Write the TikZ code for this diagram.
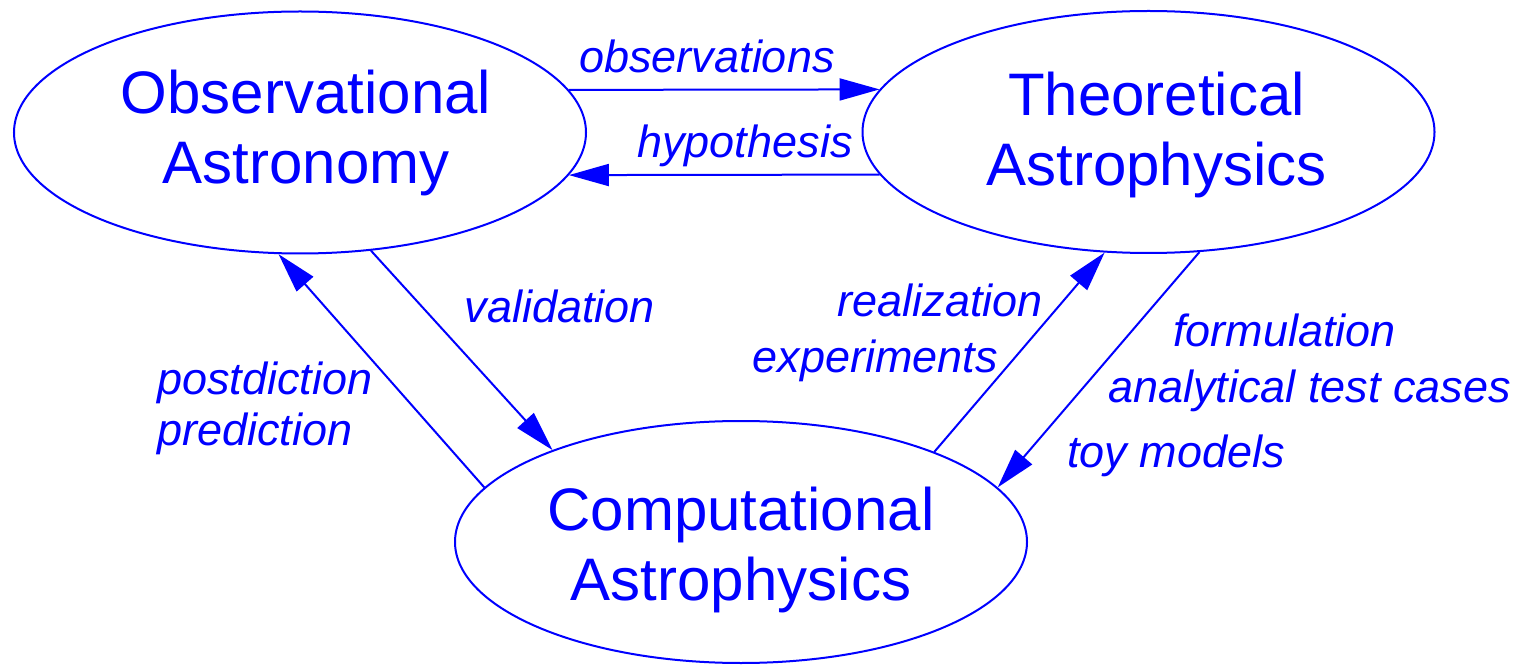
\documentclass[tikz,border=0pt]{standalone}
\usepackage{fontspec}
\setmainfont{Liberation Sans}
\usetikzlibrary{shapes.geometric,arrows.meta}
\definecolor{diagblue}{rgb}{0,0,1}
\providecommand{\diagLineWidth}{2pt}
\providecommand{\diagFieldWidth}{572pt}
\providecommand{\diagFieldHeight}{242pt}

\begin{document}
\begin{tikzpicture}[x=1pt, y=1pt,
  field/.style={ellipse, draw=diagblue, line width=\diagLineWidth,
    minimum width=\diagFieldWidth, minimum height=\diagFieldHeight,
    inner sep=0pt},
  fieldtext/.style={text=diagblue, align=center, inner sep=0pt,
    font=\fontsize{60}{70}\selectfont},
  flow/.style={draw=diagblue, line width=\diagLineWidth,
    -{Triangle[length=40pt,width=22pt]}},
  lbl/.style={text=diagblue, inner sep=0pt,
    font=\fontsize{45}{50}\selectfont\itshape}]
\useasboundingbox (0,0) rectangle (1524,665);
% The three fields
\node[field] (obs)  at (300,532.5)  {};
\node[field] (theo) at (1148.5,533) {};
\node[field] (comp) at (741,123)    {};
\node[fieldtext] (obsT)  at ([xshift=6pt]obs)  {Observational\\Astronomy};
\node[fieldtext] (theoT) at ([xshift=8pt,yshift=-3pt]theo) {Theoretical\\Astrophysics};
\node[fieldtext] (compT) at ([yshift=-8pt]comp) {Computational\\Astrophysics};
% Observation <-> theory
\draw[flow] (obs.9) -- (theo.171);
\draw[flow] (theo.189) -- (obs.-9);
\node[lbl, anchor=base] (lobs) at (707,592) {observations};
\node[lbl, anchor=base] (lhyp) at (745,507) {hypothesis};
% Observation <-> computation
\draw[flow] (obs.-59) -- (comp.154.5);
\draw[flow] (comp.168) -- (obs.260.5);
\node[lbl, anchor=base] (lval) at (560,342) {validation};
\node[lbl, anchor=base west] (lpost) at (157,270) {postdiction};
\node[lbl, anchor=base west] (lpred) at (157,220) {prediction};
% Theory <-> computation
\draw[flow] (comp.25.5) -- (theo.250);
\draw[flow] (theo.-67) -- (comp.12.6);
\node[lbl, anchor=base east] (lreal) at (1043,348) {realization};
\node[lbl, anchor=base east] (lexp) at (998,292) {experiments};
\node[lbl, anchor=base west] (lform) at (1173,318) {formulation};
\node[lbl, anchor=base west] (lana) at (1108,262) {analytical test cases};
\node[lbl, anchor=base west] (ltoy) at (1067,198) {toy models};
\end{tikzpicture}
\end{document}
